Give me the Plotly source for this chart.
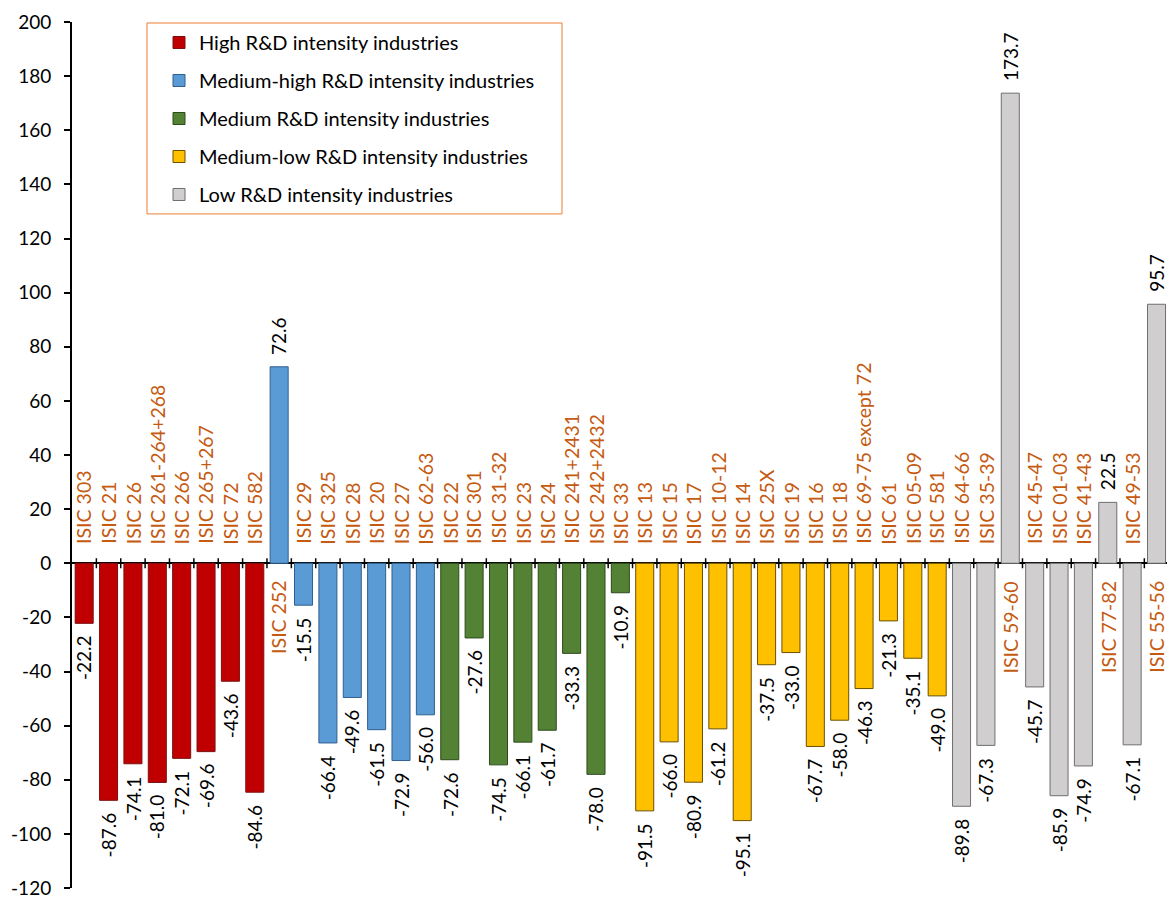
import plotly.graph_objects as go

# Category codes and percentage changes, by R&D intensity group
codes_high = ["ISIC 303", "ISIC 21", "ISIC 26", "ISIC 261-264+268", "ISIC 266",
              "ISIC 265+267", "ISIC 72", "ISIC 582"]
vals_high = [-22.2, -87.6, -74.1, -81.0, -72.1, -69.6, -43.6, -84.6]

codes_medhigh = ["ISIC 252", "ISIC 29", "ISIC 325", "ISIC 28", "ISIC 20", "ISIC 27",
                 "ISIC 62-63"]
vals_medhigh = [72.6, -15.5, -66.4, -49.6, -61.5, -72.9, -56.0]

codes_medium = ["ISIC 22", "ISIC 301", "ISIC 31-32", "ISIC 23", "ISIC 24",
                "ISIC 241+2431", "ISIC 242+2432", "ISIC 33"]
vals_medium = [-72.6, -27.6, -74.5, -66.1, -61.7, -33.3, -78.0, -10.9]

codes_medlow = ["ISIC 13", "ISIC 15", "ISIC 17", "ISIC 10-12", "ISIC 14", "ISIC 25X",
                "ISIC 19", "ISIC 16", "ISIC 18", "ISIC 69-75 except 72", "ISIC 61",
                "ISIC 05-09", "ISIC 581"]
vals_medlow = [-91.5, -66.0, -80.9, -61.2, -95.1, -37.5, -33.0, -67.7, -58.0, -46.3,
               -21.3, -35.1, -49.0]

codes_low = ["ISIC 64-66", "ISIC 35-39", "ISIC 59-60", "ISIC 45-47", "ISIC 01-03",
             "ISIC 41-43", "ISIC 77-82", "ISIC 49-53", "ISIC 55-56"]
vals_low = [-89.8, -67.3, 173.7, -45.7, -85.9, -74.9, 22.5, -67.1, 95.7]

group_names = ["High R&D intensity industries",
               "Medium-high R&D intensity industries",
               "Medium R&D intensity industries",
               "Medium-low R&D intensity industries",
               "Low R&D intensity industries"]

y_ticks = list(range(-120, 201, 20))

groups = [
    (group_names[0], codes_high, vals_high, "#C00000", "#7A1010"),
    (group_names[1], codes_medhigh, vals_medhigh, "#5B9BD5", "#2F5F8F"),
    (group_names[2], codes_medium, vals_medium, "#548235", "#2E4A1C"),
    (group_names[3], codes_medlow, vals_medlow, "#FFC000", "#6B5000"),
    (group_names[4], codes_low, vals_low, "#D0CECE", "#6F6F6F"),
]

all_codes = [c for g in groups for c in g[1]]

FONT = "Lato"
LABEL_ORANGE = "#C55A11"

W, H = 1167, 899
M_L, M_T, M_B = 72, 22, 6

fig = go.Figure()
for i, (name, codes, vals, fill, edge) in enumerate(groups):
    fig.add_trace(go.Bar(
        x=codes, y=vals, name=name, legendgroup=f"g{i}",
        marker=dict(color=fill, line=dict(color=edge, width=1)),
        width=0.74, hoverinfo="x+y",
    ))

annotations = []
for name, codes, vals, fill, edge in groups:
    for c, v in zip(codes, vals):
        neg = v < 0
        # value label just beyond the end of the bar
        annotations.append(dict(
            x=c, y=v, xref="x", yref="y", text=f"{v:.1f}", showarrow=False,
            textangle=-90, font=dict(family=FONT, size=19, color="black"),
            yanchor="top" if neg else "bottom", xanchor="center",
            yshift=-10 if neg else 10,
        ))
        # category label on the opposite side of the zero line
        annotations.append(dict(
            x=c, y=0, xref="x", yref="y", text=c, showarrow=False,
            textangle=-90, font=dict(family=FONT, size=19.5, color=LABEL_ORANGE),
            yanchor="bottom" if neg else "top", xanchor="center",
            yshift=17 if neg else -16,
        ))

# tick marks crossing the zero line at category boundaries
shapes = []
for k in range(len(all_codes) - 1):
    shapes.append(dict(
        type="line", xref="x", yref="y", ysizemode="pixel", yanchor=0,
        x0=k + 0.5, x1=k + 0.5, y0=-5, y1=5,
        line=dict(color="black", width=1.5), layer="above",
    ))

# legend frame
plot_w = W - M_L
plot_h = H - M_T - M_B
lx0, lx1, ly0, ly1 = 147, 562, 23, 215
shapes.append(dict(
    type="rect", xref="paper", yref="paper",
    x0=(lx0 - M_L) / plot_w, x1=(lx1 - M_L) / plot_w,
    y0=(H - M_B - ly1) / plot_h, y1=(H - M_B - ly0) / plot_h,
    line=dict(color="#ED7D31", width=1), fillcolor="white", layer="below",
))

fig.update_layout(
    width=W, height=H,
    margin=dict(l=M_L, r=0, t=M_T, b=M_B, pad=0),
    paper_bgcolor="white", plot_bgcolor="white",
    barmode="overlay",
    font=dict(family=FONT, size=19, color="black"),
    showlegend=True,
    legend=dict(
        x=(lx0 + 12 - M_L) / plot_w, y=(H - M_B - ly0) / plot_h,
        xanchor="left", yanchor="top",
        bgcolor="rgba(0,0,0,0)", borderwidth=0,
        font=dict(family=FONT, size=20, color="black"),
        traceorder="grouped", tracegroupgap=9,
        itemclick=False, itemdoubleclick=False,
    ),
    xaxis=dict(
        type="category", categoryorder="array", categoryarray=all_codes,
        range=[-0.5, len(all_codes) - 0.5 - 0.07],
        showticklabels=False, ticks="", showline=False, showgrid=False,
        zeroline=False, fixedrange=True,
    ),
    yaxis=dict(
        range=[-120, 200], tickvals=y_ticks, ticktext=[str(t) for t in y_ticks],
        showline=True, linecolor="black", linewidth=2,
        ticks="outside", ticklen=6, tickwidth=2, tickcolor="black",
        showgrid=False, zeroline=True, zerolinecolor="black", zerolinewidth=2,
        tickfont=dict(family=FONT, size=19, color="black"), ticklabelstandoff=9,
        ticklabeloverflow="allow", fixedrange=True,
    ),
    annotations=annotations,
    shapes=shapes,
)

fig.write_html("out.html")
